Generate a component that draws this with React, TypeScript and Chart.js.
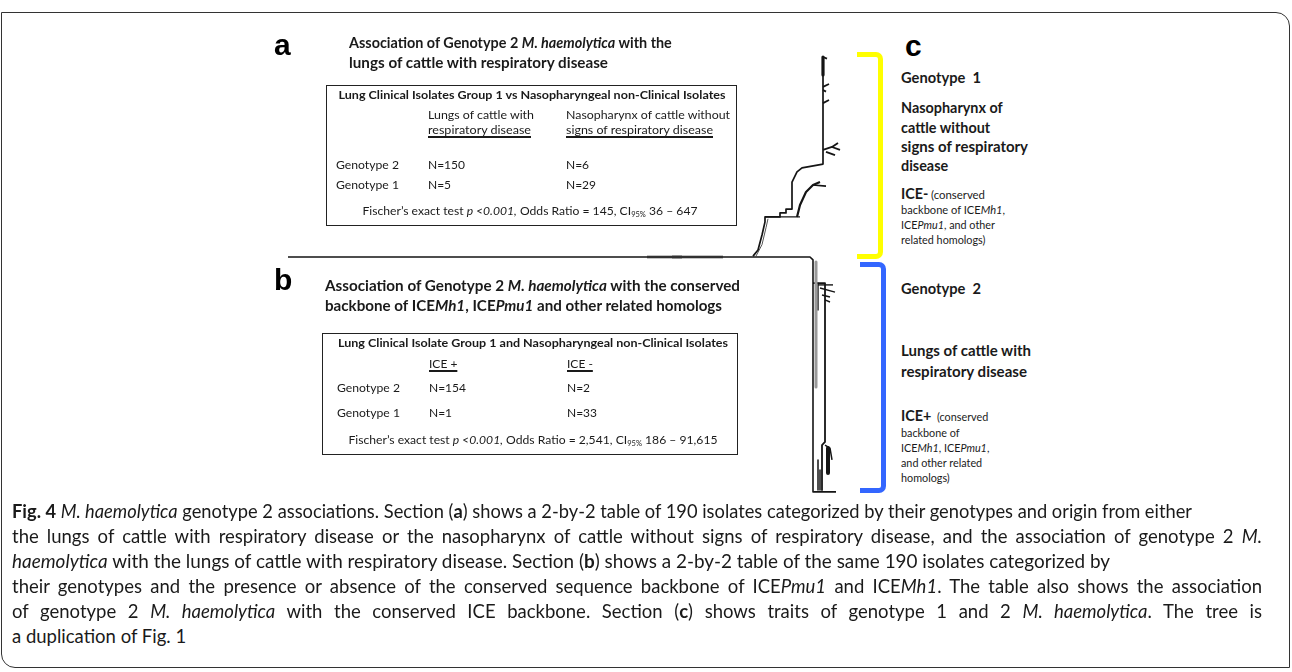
import React, { useEffect, useLayoutEffect, useRef } from "react";
import { Chart, registerables } from "chart.js";
Chart.register(...registerables);

// ---- tree data: x = branch length (substitutions/site), y = tip rank ----
const rootBranch = [[0, 92.0], [0.522, 92.0], [0.525, 93.3], [0.525, 196.4], [0.548, 196.4]];
const rootGray = [[0.359, 92.0], [0.435, 92.0]];
const rootDark = [[0.384, 92.0], [0.394, 92.0]];
const g1Backbone = [[0.465, 91.6], [0.470, 88.9], [0.474, 82.2], [0.477, 76.4], [0.477, 74.2], [0.492, 74.2], [0.492, 72.4], [0.498, 72.4], [0.498, 70.7], [0.504, 70.7], [0.504, 58.7], [0.509, 54.2], [0.514, 52.4], [0.535, 50.7], [0.535, 3.1]];
const g1Floor = [[0.477, 74.2], [0.512, 74.2]];
const g1Outline = [[0.468, 91.6], [0.474, 86.5], [0.478, 79.0], [0.480, 75.0]];
const g1SubClade = [[0.509, 74.2], [0.512, 68.9], [0.518, 63.1], [0.525, 60.0], [0.532, 58.7]];
const g1SubFork = [[0.525, 60.0], [0.538, 60.5]];
const g1TopThick = [[0.535, 3.1], [0.535, 11.1]];
const g1Tips = [
  [[0.535, 3.1], [0.539, 3.8]],
  [[0.535, 16.4], [0.541, 15.1]],
  [[0.535, 17.8], [0.538, 18.5]],
  [[0.535, 23.6], [0.541, 22.2]],
  [[0.535, 44.4], [0.544, 43.1], [0.550, 41.3]],
  [[0.544, 43.1], [0.552, 44.4]],
  [[0.538, 45.3], [0.547, 46.7]],
];
const g2Collapsed = [[0.528, 94.2], [0.528, 149.8]];
const g2Main = [[0.525, 103.6], [0.537, 103.6], [0.537, 174.2], [0.534, 175.6], [0.534, 195.6]];
const g2TopTips = [
  [[0.530, 103.6], [0.530, 115.6]],
  [[0.530, 104.4], [0.545, 104.4]],
  [[0.532, 105.8], [0.547, 107.6]],
  [[0.534, 108.9], [0.542, 109.8]],
  [[0.537, 111.1], [0.542, 112.0]],
];
const g2Blob = [[0.540, 176.9], [0.540, 188.0]];
const g2BottomTips = [
  [[0.537, 175.6], [0.542, 176.9], [0.544, 182.2]],
  [[0.530, 182.2], [0.530, 195.6]],
  [[0.532, 186.7], [0.532, 195.6]],
];

// ---- table values ----
const tableAHeader = "Lung Clinical Isolates Group 1 vs Nasopharyngeal non-Clinical Isolates";
const tableACols = ["Lungs of cattle with", "respiratory disease", "Nasopharynx of cattle without", "signs of respiratory disease"];
const tableARows = ["Genotype 2", "Genotype 1"];
const tableAValues = [["N=150", "N=6"], ["N=5", "N=29"]];
const tableBHeader = "Lung Clinical Isolate Group 1 and Nasopharyngeal non-Clinical Isolates";
const tableBCols = ["ICE +", "ICE -"];
const tableBRows = ["Genotype 2", "Genotype 1"];
const tableBValues = [["N=154", "N=2"], ["N=1", "N=33"]];

const LATO = 'Lato, "Open Sans", sans-serif';
const ARIAL = '"Liberation Sans", Arial, sans-serif';
const INK = "#1a1a1a";
const CAP_SIZE = 18.5;

type TP = {
  x: number; base: number; size: number; arial?: boolean; bold?: boolean; italic?: boolean;
  w?: number; center?: boolean; u?: boolean; children: any; color?: string;
};

function useFit(ref: any, w: number | undefined, center?: boolean) {
  useLayoutEffect(() => {
    const el = ref.current as HTMLElement | null;
    if (!el || !w) return;
    const fit = () => {
      el.style.transform = center ? "translateX(-50%)" : "none";
      const nat = el.getBoundingClientRect().width;
      const s = nat > 0 ? w / nat : 1;
      el.style.transform = center ? `translateX(-50%) scaleX(${s})` : `scaleX(${s})`;
    };
    fit();
    (document as any).fonts?.ready?.then(fit);
  });
}

function Txt(p: TP) {
  const ref = useRef<HTMLDivElement>(null);
  useFit(ref, p.w, p.center);
  const asc = p.arial ? 0.8465 : 0.887;
  return (
    <div
      ref={ref}
      style={{
        position: "absolute",
        left: p.x,
        top: p.base - asc * p.size,
        fontFamily: p.arial ? ARIAL : LATO,
        fontSize: p.size,
        lineHeight: `${p.size}px`,
        fontWeight: p.bold ? 700 : 400,
        fontStyle: p.italic ? "italic" : "normal",
        whiteSpace: "pre",
        color: p.color || INK,
        transform: p.center ? "translateX(-50%)" : undefined,
        transformOrigin: p.center ? "center" : "left",
        textDecoration: p.u ? "underline" : "none",
        textDecorationThickness: p.u ? "1.6px" : undefined,
        textUnderlineOffset: p.u ? "2px" : undefined,
      }}
    >
      {p.children}
    </div>
  );
}

const Sub = ({ children }: any) => (
  <span style={{ fontSize: "0.62em", verticalAlign: "-0.3em" }}>{children}</span>
);

function Cap({ base, justify, w, children }: any) {
  const ref = useRef<HTMLDivElement>(null);
  useFit(ref, justify ? undefined : w);
  return (
    <div
      ref={ref}
      style={{
        position: "absolute",
        left: 12,
        top: base - 0.887 * CAP_SIZE,
        width: justify ? 1250 : undefined,
        fontFamily: LATO,
        fontSize: CAP_SIZE,
        lineHeight: `${CAP_SIZE}px`,
        color: INK,
        textAlign: justify ? "justify" : "left",
        textAlignLast: justify ? "justify" : "auto",
        whiteSpace: justify ? "normal" : "nowrap",
        transformOrigin: "left",
      } as any}
    >
      {children}
    </div>
  );
}

export default function App() {
  const canvasRef = useRef<HTMLCanvasElement>(null);

  useEffect(() => {
    const el = canvasRef.current;
    if (!el) return;
    const mk = (pts: number[][], color: string, width: number) => ({
      data: pts.map(([x, y]) => ({ x, y })),
      showLine: true,
      borderColor: color,
      backgroundColor: color,
      borderWidth: width,
      pointRadius: 0,
      pointHoverRadius: 0,
      tension: 0,
      borderCapStyle: "butt",
      borderJoinStyle: "round",
    });
    const black = "#151515";
    const datasets: any[] = [
      mk(rootBranch, black, 1.6),
      mk(rootGray, "#8a8a8a", 3),
      mk(rootDark, "#333", 3),
      mk(g1Backbone, black, 1.7),
      mk(g1Floor, black, 1.2),
      mk(g1Outline, "#555", 1),
      mk(g1SubClade, black, 2.2),
      mk(g1SubFork, black, 1.6),
      mk(g1TopThick, black, 3.2),
      ...g1Tips.map((t) => mk(t, black, 1.8)),
      mk(g2Collapsed, "#9a9a9a", 3),
      mk(g2Main, black, 1.8),
      ...g2TopTips.map((t) => mk(t, black, 1.4)),
      mk(g2Blob, black, 4),
      ...g2BottomTips.map((t) => mk(t, black, 1.5)),
    ];
    const chart = new Chart(el, {
      type: "scatter",
      data: { datasets },
      options: {
        responsive: true,
        maintainAspectRatio: false,
        animation: false,
        events: [],
        layout: { padding: 0 },
        plugins: { legend: { display: false }, tooltip: { enabled: false } },
        scales: {
          x: { type: "linear", min: -0.01, max: 0.57, display: false },
          y: { type: "linear", min: -4, max: 204, reverse: true, display: false },
        },
      } as any,
    });
    return () => chart.destroy();
  }, []);

  const bracket = (top: number, left: number, height: number, color: string) => (
    <div
      style={{
        position: "absolute", left, top, width: 26, height, boxSizing: "border-box",
        borderTop: `5px solid ${color}`, borderRight: `5px solid ${color}`, borderBottom: `5px solid ${color}`,
        borderTopRightRadius: 7, borderBottomRightRadius: 7,
      }}
    />
  );

  const box = (left: number, top: number, width: number, height: number) => (
    <div style={{ position: "absolute", left, top, width, height, boxSizing: "border-box", border: "1.5px solid #222" }} />
  );

  return (
    <div style={{ position: "absolute", left: 0, top: 0, width: 1292, height: 672, background: "#fff", overflow: "hidden" }}>
      {/* figure frame */}
      <div style={{ position: "absolute", left: 1, top: 12, width: 1289, height: 656, boxSizing: "border-box", border: "1.5px solid #333", borderTopRightRadius: 14, borderBottomLeftRadius: 14 }} />

      {/* tree */}
      <div style={{ position: "absolute", left: 278, top: 41, width: 580, height: 468 }}>
        <canvas ref={canvasRef} />
      </div>
      {bracket(52, 857, 207, "#ffff00")}
      {bracket(262, 860, 231, "#3366ff")}

      {/* section a */}
      <Txt x={274} base={55} size={30} arial bold color="#000">a</Txt>
      <Txt x={349} base={49} size={14.4} bold>Association of Genotype 2 <i>M. haemolytica</i> with the</Txt>
      <Txt x={349} base={69} size={14.4} bold w={259}>lungs of cattle with respiratory disease</Txt>
      {box(326, 85, 411, 141)}
      <Txt x={531.5} base={100} size={12} bold center w={387}>{tableAHeader}</Txt>
      <Txt x={428} base={120} size={12} w={106}>{tableACols[0]}</Txt>
      <Txt x={428} base={135} size={12} u w={103}>{tableACols[1]}</Txt>
      <Txt x={566} base={120} size={12} w={164}>{tableACols[2]}</Txt>
      <Txt x={566} base={135} size={12} u w={147}>{tableACols[3]}</Txt>
      {tableARows.map((r, i) => (
        <React.Fragment key={r}>
          <Txt x={336} base={170 + i * 20} size={12} w={63}>{r}</Txt>
          <Txt x={428} base={170 + i * 20} size={12}>{tableAValues[i][0]}</Txt>
          <Txt x={566} base={170 + i * 20} size={12}>{tableAValues[i][1]}</Txt>
        </React.Fragment>
      ))}
      <Txt x={529.5} base={216} size={12} center w={335}>
        Fischer’s exact test <i>p &lt;0.001,</i> Odds Ratio = 145, CI<Sub>95%</Sub> 36 – 647
      </Txt>

      {/* section b */}
      <Txt x={274} base={290} size={30} arial bold color="#000">b</Txt>
      <Txt x={325} base={292} size={14.4} bold w={415}>Association of Genotype 2 <i>M. haemolytica</i> with the conserved</Txt>
      <Txt x={325} base={312} size={14.4} bold w={397}>backbone of ICE<i>Mh1</i>, ICE<i>Pmu1</i> and other related homologs</Txt>
      {box(322, 333, 416, 122)}
      <Txt x={533} base={348} size={12} bold center w={390}>{tableBHeader}</Txt>
      <Txt x={429} base={369} size={12} u>{tableBCols[0]}</Txt>
      <Txt x={567} base={369} size={12} u>{tableBCols[1]}</Txt>
      {tableBRows.map((r, i) => (
        <React.Fragment key={r}>
          <Txt x={337} base={393 + i * 25} size={12} w={63}>{r}</Txt>
          <Txt x={429} base={393 + i * 25} size={12}>{tableBValues[i][0]}</Txt>
          <Txt x={567} base={393 + i * 25} size={12}>{tableBValues[i][1]}</Txt>
        </React.Fragment>
      ))}
      <Txt x={532.5} base={445} size={12} center w={369}>
        Fischer’s exact test <i>p &lt;0.001,</i> Odds Ratio = 2,541, CI<Sub>95%</Sub> 186 – 91,615
      </Txt>

      {/* section c */}
      <Txt x={905} base={56} size={30} arial bold color="#000">c</Txt>
      <Txt x={901} base={84} size={14.4} bold w={80}>{"Genotype  1"}</Txt>
      <Txt x={901} base={114} size={14.4} bold>Nasopharynx of</Txt>
      <Txt x={901} base={134} size={14.4} bold>cattle without</Txt>
      <Txt x={901} base={153} size={14.4} bold w={127}>signs of respiratory</Txt>
      <Txt x={901} base={172} size={14.4} bold>disease</Txt>
      <Txt x={901} base={200} size={14.4} bold>ICE-</Txt>
      <Txt x={931} base={200} size={10.8} w={54}>(conserved</Txt>
      <Txt x={901} base={215} size={10.8} w={104}>backbone of ICE<i>Mh1</i>,</Txt>
      <Txt x={901} base={230} size={10.8}>ICE<i>Pmu1</i>, and other</Txt>
      <Txt x={901} base={245} size={10.8}>related homologs)</Txt>

      <Txt x={901} base={295} size={14.4} bold w={80}>{"Genotype  2"}</Txt>
      <Txt x={901} base={357} size={14.4} bold w={130}>Lungs of cattle with</Txt>
      <Txt x={901} base={378} size={14.4} bold w={126}>respiratory disease</Txt>
      <Txt x={901} base={422} size={14.4} bold>ICE+</Txt>
      <Txt x={937} base={422} size={10.8}>(conserved</Txt>
      <Txt x={901} base={438} size={10.8}>backbone of</Txt>
      <Txt x={901} base={453} size={10.8}>ICE<i>Mh1</i>, ICE<i>Pmu1</i>,</Txt>
      <Txt x={901} base={468} size={10.8}>and other related</Txt>
      <Txt x={901} base={483} size={10.8}>homologs)</Txt>

      {/* caption */}
      <Cap base={518} w={1180}>
        <b>Fig. 4</b> <i>M. haemolytica</i> genotype 2 associations. Section (<b>a</b>) shows a 2-by-2 table of 190 isolates categorized by their genotypes and origin from either
      </Cap>
      <Cap base={543} justify>
        the lungs of cattle with respiratory disease or the nasopharynx of cattle without signs of respiratory disease, and the association of genotype 2 <i>M.</i>
      </Cap>
      <Cap base={568} w={1098}>
        <i>haemolytica</i> with the lungs of cattle with respiratory disease. Section (<b>b</b>) shows a 2-by-2 table of the same 190 isolates categorized by
      </Cap>
      <Cap base={593} justify>
        their genotypes and the presence or absence of the conserved sequence backbone of ICE<i>Pmu1</i> and ICE<i>Mh1</i>. The table also shows the association
      </Cap>
      <Cap base={618} justify>
        of genotype 2 <i>M. haemolytica</i> with the conserved ICE backbone. Section (<b>c</b>) shows traits of genotype 1 and 2 <i>M. haemolytica</i>. The tree is
      </Cap>
      <Cap base={643}>a duplication of Fig. 1</Cap>
    </div>
  );
}
